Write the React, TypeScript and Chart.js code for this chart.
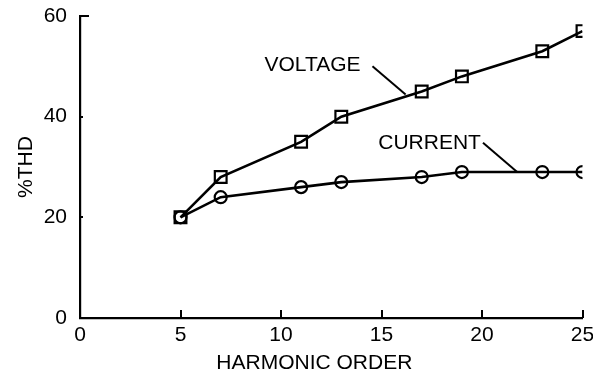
import React, { useEffect, useRef } from "react";
import { Chart, registerables } from "chart.js";

Chart.register(...registerables);

// ---- data ----
const harmonicOrder = [5, 7, 11, 13, 17, 19, 23, 25];
const voltageTHD = [20, 28, 35, 40, 45, 48, 53, 57];
const currentTHD = [20, 24, 26, 27, 28, 29, 29, 29];
const seriesNames = ["VOLTAGE", "CURRENT"];
const xAxisTitle = "HARMONIC ORDER";
const yAxisTitle = "%THD";

const FONT = '"Liberation Sans", Arial, Helvetica, sans-serif';

// callout labels (data coordinates)
const callouts = [
  { text: seriesNames[0], tx: 9.18, ty: 50.3, from: [14.55, 50.0], to: [16.2, 44.4] },
  { text: seriesNames[1], tx: 14.84, ty: 34.7, from: [20.05, 34.8], to: [21.75, 29.0] },
];

const decorPlugin = {
  id: "decor",
  afterDraw(chart: any) {
    const { ctx, chartArea } = chart;
    const xs = chart.scales.x;
    const ys = chart.scales.y;
    ctx.save();
    ctx.strokeStyle = "#000";
    ctx.lineWidth = 2;
    ctx.beginPath();
    xs.ticks.forEach((t: any) => {
      if (t.value === 0) return;
      const px = Math.round(xs.getPixelForValue(t.value));
      ctx.moveTo(px, chartArea.bottom);
      ctx.lineTo(px, chartArea.bottom - 8);
    });
    ys.ticks.forEach((t: any) => {
      if (t.value === 0) return;
      const py = Math.round(ys.getPixelForValue(t.value));
      const len = t.value === ys.max ? 9 : 3;
      ctx.moveTo(chartArea.left, py);
      ctx.lineTo(chartArea.left + len, py);
    });
    ctx.stroke();

    ctx.fillStyle = "#000";
    ctx.font = `21px ${FONT}`;
    ctx.textAlign = "left";
    ctx.textBaseline = "middle";
    ctx.lineWidth = 2;
    callouts.forEach((c) => {
      ctx.fillText(c.text, xs.getPixelForValue(c.tx), ys.getPixelForValue(c.ty));
      ctx.beginPath();
      ctx.moveTo(xs.getPixelForValue(c.from[0]), ys.getPixelForValue(c.from[1]));
      ctx.lineTo(xs.getPixelForValue(c.to[0]), ys.getPixelForValue(c.to[1]));
      ctx.stroke();
    });

    // x-axis title (centred slightly left of the plot centre, as in the original)
    ctx.textAlign = "center";
    ctx.fillText(xAxisTitle, xs.getPixelForValue(11.66), xs.bottom - 14);
    ctx.restore();
  },
};

export default function App() {
  const canvasRef = useRef<HTMLCanvasElement | null>(null);

  useEffect(() => {
    document.body.style.margin = "0";
    const canvas = canvasRef.current;
    if (!canvas) return;
    const chart = new Chart(canvas, {
      type: "line",
      data: {
        datasets: [
          {
            label: seriesNames[0],
            data: harmonicOrder.map((x, i) => ({ x, y: voltageTHD[i] })),
            borderColor: "#000",
            borderWidth: 2.6,
            backgroundColor: "transparent",
            pointStyle: "rect",
            pointRadius: 8.3,
            pointBorderWidth: 2.2,
            pointBorderColor: "#000",
            pointBackgroundColor: "transparent",
            tension: 0,
          },
          {
            label: seriesNames[1],
            data: harmonicOrder.map((x, i) => ({ x, y: currentTHD[i] })),
            borderColor: "#000",
            borderWidth: 2.6,
            backgroundColor: "transparent",
            pointStyle: "circle",
            pointRadius: 6,
            pointBorderWidth: 2.2,
            pointBorderColor: "#000",
            pointBackgroundColor: "transparent",
            tension: 0,
          },
        ],
      },
      options: {
        animation: false,
        responsive: false,
        maintainAspectRatio: false,
        layout: { padding: { top: 16, right: 8, left: 0, bottom: 0 } },
        plugins: {
          legend: { display: false },
          tooltip: { enabled: false },
        },
        scales: {
          x: {
            type: "linear",
            min: 0,
            max: 25,
            ticks: {
              stepSize: 5,
              color: "#000",
              font: { family: FONT, size: 21 },
              padding: 5,
            },
            grid: { display: true, drawOnChartArea: false, drawTicks: false },
            border: { display: true, color: "#000", width: 2.2 },
            title: { display: false, text: xAxisTitle },
            afterFit(scale: any) {
              scale.height = 59;
              scale.paddingLeft = 0;
              scale.paddingRight = 0;
            },
          },
          y: {
            type: "linear",
            min: 0,
            max: 60,
            ticks: {
              stepSize: 20,
              color: "#000",
              font: { family: FONT, size: 21 },
              padding: 13,
            },
            grid: { display: true, drawOnChartArea: false, drawTicks: false },
            border: { display: true, color: "#000", width: 2.2 },
            title: {
              display: true,
              text: yAxisTitle,
              color: "#000",
              font: { family: FONT, size: 21 },
              padding: { top: 14, bottom: 0 },
            },
            afterFit(scale: any) {
              scale.width = 80;
              scale.paddingTop = 0;
              scale.paddingBottom = 0;
            },
          },
        },
      },
      plugins: [decorPlugin],
    });
    return () => chart.destroy();
  }, []);

  return (
    <div style={{ position: "absolute", left: 0, top: 0, width: 593, height: 377, background: "#fff" }}>
      <canvas ref={canvasRef} width={593} height={377} style={{ width: 593, height: 377 }} />
    </div>
  );
}
